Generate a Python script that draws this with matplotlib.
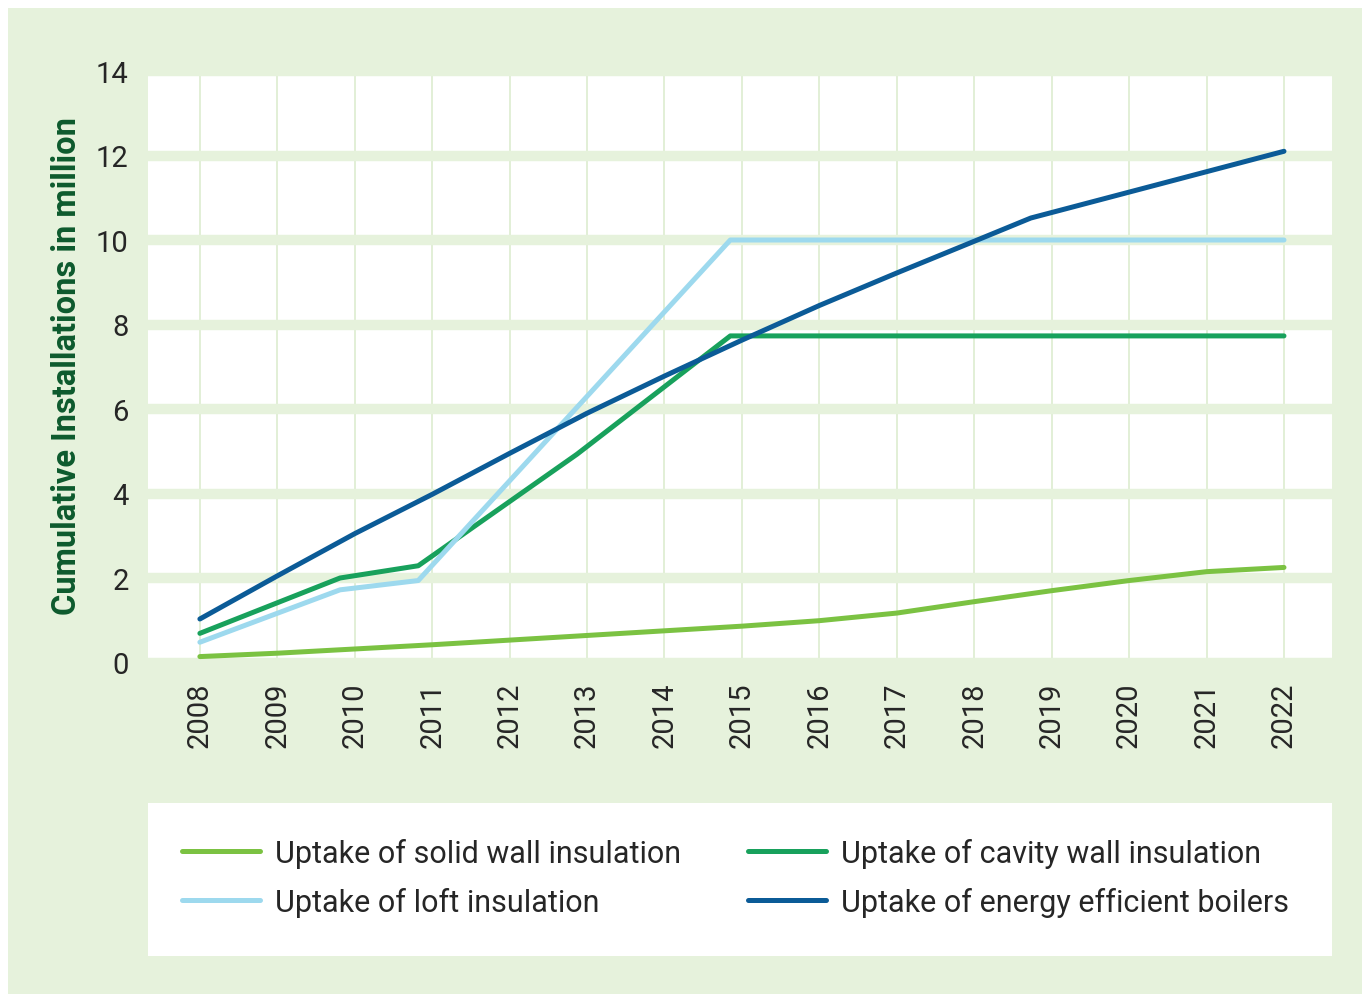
import matplotlib
matplotlib.use("Agg")
import matplotlib.pyplot as plt
from matplotlib.patches import Rectangle

plt.rcParams['font.family'] = ['Roboto', 'DejaVu Sans']

# data (x in fractional years where the lines bend)
years = list(range(2008, 2023))
solid_x = [2008, 2009, 2010, 2011, 2012, 2013, 2014, 2015, 2016, 2017, 2018, 2019, 2020, 2021, 2022]
solid_y = [0.14, 0.22, 0.32, 0.42, 0.53, 0.64, 0.75, 0.86, 0.99, 1.17, 1.44, 1.70, 1.94, 2.15, 2.25]
cavity_x = [2008, 2009.81, 2010.82, 2012.87, 2014.85, 2022]
cavity_y = [0.69, 2.00, 2.29, 4.93, 7.73, 7.73]
loft_x = [2008, 2009.81, 2010.82, 2014.85, 2022]
loft_y = [0.48, 1.72, 1.94, 10.0, 10.0]
boiler_x = [2008, 2009, 2010, 2011, 2012, 2013, 2014, 2015, 2016, 2017, 2018, 2018.73, 2022]
boiler_y = [1.03, 2.05, 3.05, 3.98, 4.95, 5.90, 6.78, 7.63, 8.45, 9.22, 9.97, 10.52, 12.1]
yticks = [0, 2, 4, 6, 8, 10, 12, 14]

bg = '#e6f2dc'
txt = '#262626'
W, H = 1362, 995
fig = plt.figure(figsize=(W / 100, H / 100), dpi=100, facecolor='white')
fig.patches.append(Rectangle((8 / W, 0), 1, 1 - 9 / H, transform=fig.transFigure,
                             facecolor=bg, edgecolor='none', zorder=-10))
# white legend box
fig.patches.append(Rectangle((148 / W, 1 - 957 / H), (1332 - 148) / W, (957 - 804) / H,
                             transform=fig.transFigure, facecolor='white', edgecolor='none', zorder=-5))

ax = fig.add_axes([148 / W, 1 - 663.5 / H, (1332 - 148) / W, (663.5 - 72) / H])
ax.set_facecolor('white')

lw = 3.6
l1, = ax.plot(solid_x, solid_y, color='#7bc242', lw=lw, solid_capstyle='round', solid_joinstyle='round', zorder=3)
l2, = ax.plot(cavity_x, cavity_y, color='#18a15c', lw=lw, solid_capstyle='round', solid_joinstyle='round', zorder=3)
l3, = ax.plot(loft_x, loft_y, color='#9dd9ee', lw=lw, solid_capstyle='round', solid_joinstyle='round', zorder=3)
l4, = ax.plot(boiler_x, boiler_y, color='#0b5b97', lw=lw, solid_capstyle='round', solid_joinstyle='round', zorder=4)

ax.set_xlim(2007.33, 2022.62)
ax.set_ylim(0, 14)
ax.set_yticks(yticks)
ax.set_xticks(years)
ax.set_xticklabels([str(y) for y in years], rotation=90)
for y in yticks:
    ax.axhline(y, color=bg, lw=7.5, zorder=1)
for x in years:
    ax.axvline(x, color='#e2efd6', lw=1.4, zorder=0.5)
for s in ax.spines.values():
    s.set_visible(False)
ax.tick_params(length=0, labelsize=21, labelcolor=txt, pad=14)

fig.text(67 / W, 1 - 366 / H, 'Cumulative Installations in million', rotation=90,
         ha='center', va='center', fontsize=23.5, fontweight='bold', color='#0d5a2d')

fig.legend([l1, l3, l2, l4],
           ['Uptake of solid wall insulation', 'Uptake of loft insulation',
            'Uptake of cavity wall insulation', 'Uptake of energy efficient boilers'],
           ncol=2, frameon=False, loc='upper left',
           bbox_to_anchor=(182 / W, 1 - 839 / H),
           prop={'size': 22}, labelcolor=txt,
           handlelength=2.55, handletextpad=0.49, columnspacing=2.2, labelspacing=0.62,
           borderaxespad=0, borderpad=0)

fig.savefig('out.png', dpi=100, facecolor='white')
